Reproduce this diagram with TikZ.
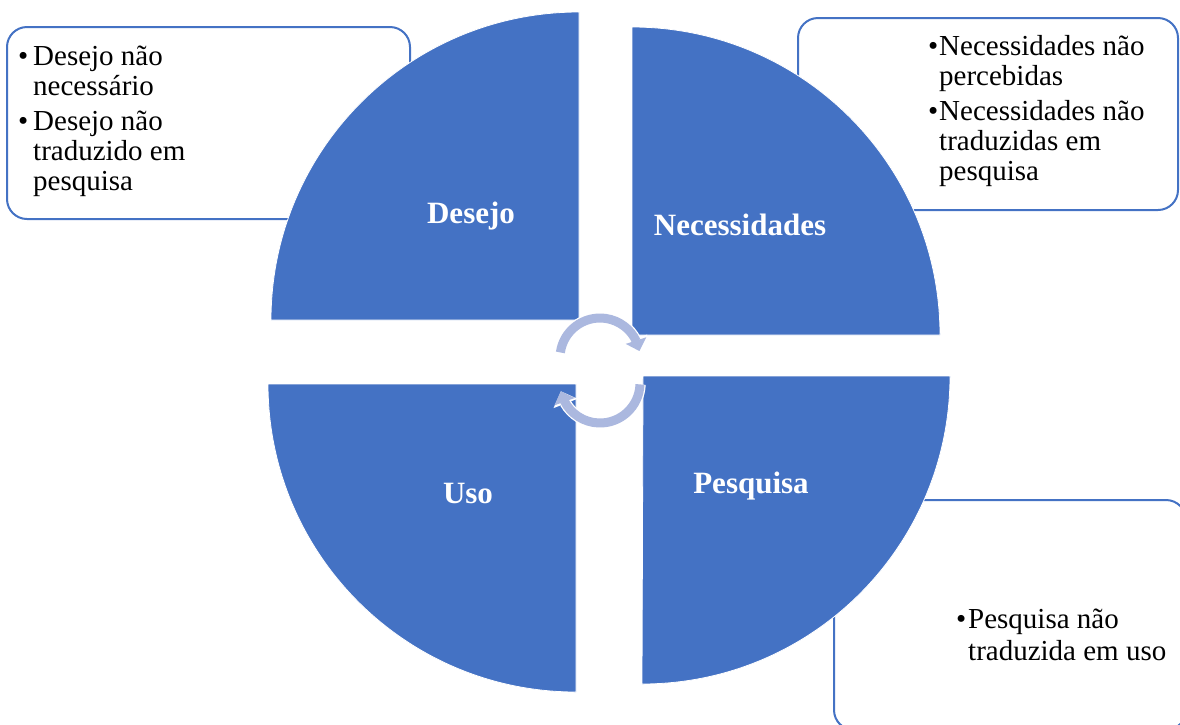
\documentclass[tikz,border=0pt]{standalone}
\usepackage{fontspec}
\setmainfont{Liberation Serif}
\usetikzlibrary{arrows.meta,bending}
\definecolor{quadblue}{RGB}{68,114,196}
\definecolor{cyclelight}{RGB}{171,184,223}
% bullet set in a box of the given width, and the matching indent
\newcommand\itm[1]{\makebox[#1][l]{\textbullet}}
\newcommand\ind[1]{\hspace*{#1}}
\begin{document}
\begin{tikzpicture}[x=1pt,y=-1pt,
  note/.style={draw=quadblue,line width=2pt,fill=white,rounded corners=20pt},
  notetext/.style={anchor=base west,inner sep=0pt,font=\fontsize{29}{30}\selectfont},
  quad/.style={fill=quadblue,draw=white,line width=0.8pt},
  qlabel/.style={anchor=base,text=white,inner sep=0pt,font=\fontsize{31}{36}\selectfont\bfseries},
  cyc/.style={cyclelight,line width=9pt,-{Triangle[length=11pt,width=21pt,flex]}},
  cycedge/.style={white,line width=11.5pt,-{Triangle[length=13pt,width=25pt,flex]}}
]
\useasboundingbox (0,0) rectangle (1180,724);
\begin{scope}
\clip (0,0) rectangle (1180,724);

% note boxes behind the circle
\draw[note] (7,27) rectangle (410,219);
\draw[note] (798,18) rectangle (1178,210);
\draw[note] (834,500) rectangle (1186,730);

% four quarter discs
\path[quad] (579,320) -- ++(-308,0) arc[start angle=180,end angle=270,radius=308] -- cycle;
\path[quad] (632,335) -- ++(0,-308) arc[start angle=270,end angle=360,radius=308] -- cycle;
\path[quad] (643,376) -- ++(307,0) arc[start angle=0,end angle=90,radius=308] -- cycle;
\path[quad] (576,384) -- ++(0,308) arc[start angle=90,end angle=180,radius=308] -- cycle;
\end{scope}

% quadrant labels
\node[qlabel] (desejo) at (471,223) {Desejo};
\node[qlabel] (necess) at (740,235) {Necessidades};
\node[qlabel] (pesq) at (751,493) {Pesquisa};
\node[qlabel] (uso) at (468,503) {Uso};

% note texts
\node[notetext] (tltext) at (18,65) {\begin{tabular}[t]{@{}l@{}}
  \itm{15pt}Desejo não\\ \ind{15pt}necessário\\[5pt]
  \itm{15pt}Desejo não\\ \ind{15pt}traduzido em\\ \ind{15pt}pesquisa
\end{tabular}};
\node[notetext] (trtext) at (928,55) {\begin{tabular}[t]{@{}l@{}}
  \itm{11pt}Necessidades não\\ \ind{11pt}percebidas\\[5pt]
  \itm{11pt}Necessidades não\\ \ind{11pt}traduzidas em\\ \ind{11pt}pesquisa
\end{tabular}};
\node[notetext] (brtext) at (956,628) {\begin{tabular}[t]{@{}l@{}}
  \itm{12pt}Pesquisa não\\[2pt] \ind{12pt}traduzida em uso
\end{tabular}};

% cycle arrows in the middle
\coordinate (ctop) at (600,358);
\coordinate (cbot) at (600,383);
\draw[cycedge] ([shift={(188:40)}]ctop) arc[start angle=188,end angle=350,radius=40];
\draw[cyc] ([shift={(188:40)}]ctop) arc[start angle=188,end angle=350,radius=40];
\draw[cycedge] ([shift={(2:40)}]cbot) arc[start angle=2,end angle=168,radius=40];
\draw[cyc] ([shift={(2:40)}]cbot) arc[start angle=2,end angle=168,radius=40];
\end{tikzpicture}
\end{document}
